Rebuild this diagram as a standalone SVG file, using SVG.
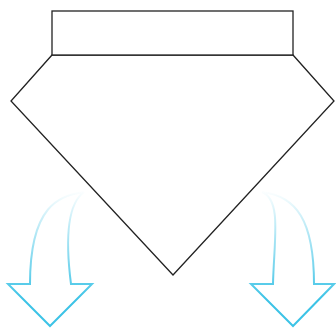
<svg xmlns="http://www.w3.org/2000/svg" width="336" height="329" viewBox="0 0 336 329">
<defs>
<linearGradient id="g" gradientUnits="userSpaceOnUse" x1="0" y1="190" x2="0" y2="300">
<stop offset="0" stop-color="#3cc3e6" stop-opacity="0"/>
<stop offset="0.35" stop-color="#3cc3e6" stop-opacity="0.35"/>
<stop offset="1" stop-color="#3cc3e6" stop-opacity="1"/>
</linearGradient>
<style>
.s{fill:#fff;stroke:#222;stroke-width:1.3}
.a{fill:none;stroke:url(#g);stroke-width:2;stroke-linejoin:miter}
</style>
</defs>
<rect width="336" height="329" fill="#fff"/>
<g id="body">
<polygon class="s" points="52,55 293,55 334,101 173,275 11,101"/>
</g>
<g id="top">
<rect class="s" x="52" y="11" width="241" height="44"/>
</g>
<g id="connectors">
<path class="a" d="M84,192 C60,195 30,205 30,284 L8,284 L50,326 L92,284 L71,284 C66,245 66,205 84,192"/>
<path class="a" d="M262,192 C282,200 274,240 273,284 L251,284 L293,326 L334,284 L314,284 C314,220 296,196 262,192"/>
</g>
</svg>
